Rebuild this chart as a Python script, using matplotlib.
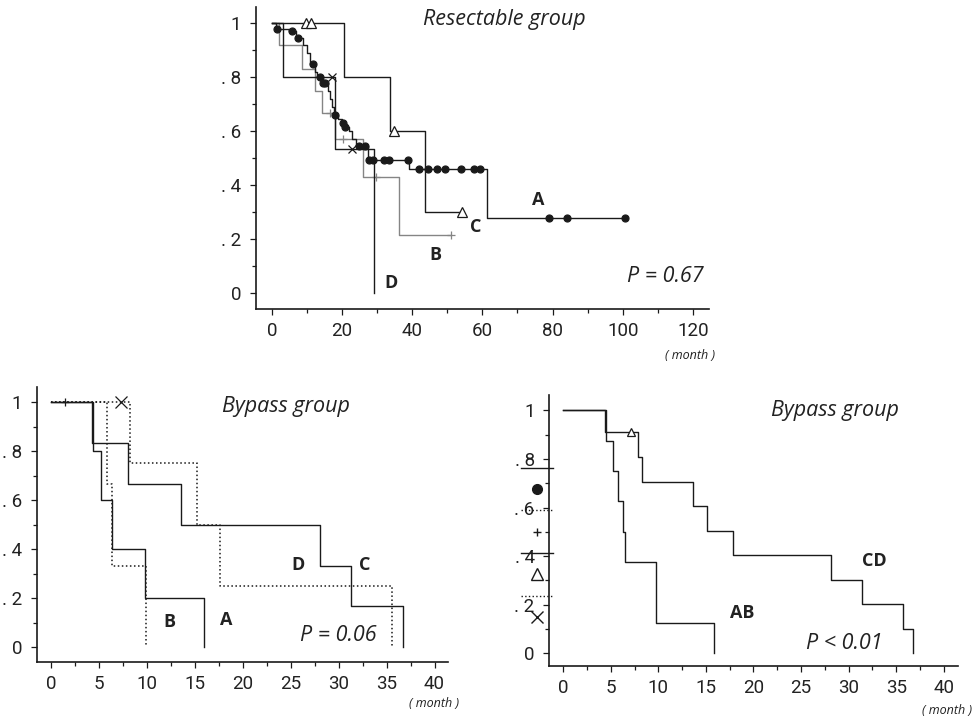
import numpy as np
import matplotlib.pyplot as plt
from matplotlib.lines import Line2D

# ---- Resectable group (months, survival) ----
res_a_t = [1.2, 5.0, 7.0, 9.0, 10.0, 11.0, 12.3, 13.0, 14.0, 16.0, 16.6, 17.2, 17.6,
           19.0, 20.0, 20.6, 22.0, 23.0, 24.0, 27.3, 39.2, 61.3]
res_a_s = [0.98, 0.97, 0.945, 0.92, 0.89, 0.848, 0.82, 0.80, 0.78, 0.75, 0.72, 0.69, 0.66,
           0.645, 0.632, 0.617, 0.60, 0.57, 0.547, 0.494, 0.459, 0.28]
res_a_cens = [1.6, 5.7, 7.5, 11.8, 13.7, 14.5, 15.2, 17.9, 20.3, 20.9, 24.8, 26.7, 27.6, 28.8,
              32.1, 33.3, 38.7, 42.0, 44.4, 47.0, 49.3, 54.0, 57.6, 59.2, 79.1, 84.2, 100.7]

res_b_t = [2.1, 8.7, 12.3, 14.2, 17.9, 25.9, 36.3]
res_b_s = [0.92, 0.83, 0.75, 0.667, 0.57, 0.43, 0.215]
res_b_cens = [16.5, 20.3, 29.7, 51.1]

res_c_t = [20.6, 33.8, 43.7]
res_c_s = [0.8, 0.6, 0.3]
res_c_cens = [9.7, 11.1, 34.7, 54.2]

res_d_t = [3.3, 18.1, 29.0]
res_d_s = [0.8, 0.535, 0.0]
res_d_cens = [17.3, 22.9]

# ---- Bypass group, four stages ----
byp_a_t = [4.4, 5.2, 6.4, 9.8, 16.0]
byp_a_s = [0.8, 0.6, 0.4, 0.2, 0.0]
byp_b_t = [5.8, 6.4, 9.9]
byp_b_s = [0.667, 0.333, 0.0]
byp_b_cens = [1.5]
byp_c_t = [4.3, 8.0, 13.6, 28.1, 31.3, 36.7]
byp_c_s = [0.833, 0.667, 0.5, 0.333, 0.167, 0.0]
byp_d_t = [8.2, 15.2, 17.6, 35.6]
byp_d_s = [0.75, 0.5, 0.25, 0.0]
byp_d_cens = [7.3]

# ---- Bypass group, AB vs CD ----
ab_t = [4.5, 5.2, 5.8, 6.3, 6.5, 9.7, 9.8, 15.9]
ab_s = [0.875, 0.75, 0.625, 0.5, 0.375, 0.25, 0.125, 0.0]
cd_t = [4.4, 7.9, 8.3, 13.6, 15.1, 17.8, 28.1, 31.4, 35.7, 36.8]
cd_s = [0.909, 0.808, 0.707, 0.606, 0.505, 0.404, 0.303, 0.202, 0.101, 0.0]
cd_cens = [7.1]

ytick_vals = [0, 0.2, 0.4, 0.6, 0.8, 1.0]
ytick_labels = ['0', '. 2', '. 4', '. 6', '. 8', '1']

TICKFONT = ['Roboto', 'DejaVu Sans']
TXTFONT = ['Open Sans', 'DejaVu Sans']
BLACK = '#1a1a1a'
GRAY = '#858585'
TXT = '#222222'


def surv_at(t, s, c):
    lvl = 1.0
    for ti, si in zip(t, s):
        if ti <= c:
            lvl = si
    return lvl


def km(ax, t, s, cens=(), end=None, marker=None, ms=5, mfc=BLACK, color=BLACK, ls='-', lw=1.0):
    if end is None:
        end = max(list(t) + list(cens))
    xs = [0.0] + list(t) + [end]
    ys = [1.0] + list(s) + [s[-1]]
    ax.step(xs, ys, where='post', color=color, ls=ls, lw=lw)
    if len(cens):
        cy = [surv_at(t, s, c) for c in cens]
        ax.plot(cens, cy, ls='none', marker=marker, ms=ms, mfc=mfc, mec=color,
                mew=0.9, color=color, clip_on=False)


def style(ax, xlim, ylim, major, minor):
    ax.set_xlim(*xlim)
    ax.set_ylim(*ylim)
    for sp in ['top', 'right']:
        ax.spines[sp].set_visible(False)
    for sp in ['left', 'bottom']:
        ax.spines[sp].set_linewidth(1.2)
        ax.spines[sp].set_color(BLACK)
    ax.set_xticks(np.arange(0, xlim[1], major))
    ax.set_xticks(np.arange(0, xlim[1], minor), minor=True)
    ax.set_yticks(ytick_vals, ytick_labels)
    ax.set_yticks(np.arange(0, 1.01, 0.1), minor=True)
    ax.tick_params(which='major', length=4.5, width=0.9, color=BLACK, labelsize=13.5, pad=5)
    ax.tick_params(which='minor', length=3, width=0.9, color=BLACK)
    ax.tick_params(axis='y', pad=6)
    for lab in ax.get_xticklabels() + ax.get_yticklabels():
        lab.set_family(TICKFONT)
        lab.set_color(TXT)


def title(ax, x, y, s):
    ax.text(x, y, s, style='italic', fontsize=15.5, family=TXTFONT,
            ha='center', va='center', color=TXT)


def tag(ax, x, y, s):
    ax.text(x, y, s, fontsize=13, fontweight='bold', family=TXTFONT,
            ha='center', va='center', color=TXT)


def month(ax, x, y):
    ax.text(x, y, '( month )', style='italic', fontsize=9, family=TXTFONT,
            ha='center', va='center', color=TXT, clip_on=False)


fig = plt.figure(figsize=(9.8, 7.16), dpi=100)

# ---- top panel ----
ax1 = fig.add_axes([0.261, 0.5684, 0.4625, 0.4218])
style(ax1, (-4.56, 124.6), (-0.058, 1.06), 20, 10)
km(ax1, res_b_t, res_b_s, res_b_cens, marker='+', ms=6, color=GRAY)
km(ax1, res_d_t, res_d_s, res_d_cens, end=29.0, marker='x', ms=6)
km(ax1, res_c_t, res_c_s, res_c_cens, marker='^', ms=7.5, mfc='white')
km(ax1, res_a_t, res_a_s, res_a_cens, marker='o', ms=5)
title(ax1, 66.2, 1.012, 'Resectable group')
for lab, x, y in [('A', 75.9, 0.345), ('C', 58.2, 0.247), ('B', 46.5, 0.142), ('D', 33.9, 0.037)]:
    tag(ax1, x, y, lab)
ax1.text(112.1, 0.061, 'P = 0.67', style='italic', fontsize=15.5, family=TXTFONT,
         ha='center', va='center', color=TXT)
month(ax1, 119.2, -0.229)

# ---- bottom left panel ----
ax2 = fig.add_axes([0.0374, 0.0758, 0.4197, 0.3837])
style(ax2, (-1.49, 41.4), (-0.059, 1.062), 5, 2.5)
km(ax2, byp_d_t, byp_d_s, byp_d_cens, marker='x', ms=8, ls=':', lw=1.1)
km(ax2, byp_b_t, byp_b_s, byp_b_cens, marker='+', ms=6, ls=':', lw=1.1)
km(ax2, byp_c_t, byp_c_s)
km(ax2, byp_a_t, byp_a_s)
title(ax2, 24.5, 0.982, 'Bypass group')
for lab, x, y in [('B', 12.4, 0.105), ('A', 18.3, 0.111), ('D', 25.75, 0.336), ('C', 32.7, 0.336)]:
    tag(ax2, x, y, lab)
ax2.text(30.0, 0.05, 'P = 0.06', style='italic', fontsize=15.5, family=TXTFONT,
         ha='center', va='center', color=TXT)
month(ax2, 39.9, -0.229)

# ---- bottom right panel ----
ax3 = fig.add_axes([0.5605, 0.0698, 0.417, 0.3785])
style(ax3, (-1.47, 41.5), (-0.052, 1.063), 5, 2.5)
km(ax3, ab_t, ab_s)
km(ax3, cd_t, cd_s, cd_cens, marker='^', ms=6, mfc='white')
title(ax3, 28.6, 1.0, 'Bypass group')
tag(ax3, 18.8, 0.165, 'AB')
tag(ax3, 32.7, 0.381, 'CD')
ax3.text(29.5, 0.041, 'P < 0.01', style='italic', fontsize=15.5, family=TXTFONT,
         ha='center', va='center', color=TXT)
month(ax3, 40.4, -0.233)

# leftover legend key drawn over the y axis
handles = [
    Line2D([], [], color=BLACK, lw=1.0),
    Line2D([], [], ls='none', marker='o', ms=7, color=BLACK),
    Line2D([], [], color=BLACK, lw=1.0, ls=':'),
    Line2D([], [], ls='none', marker='+', ms=6, color=BLACK),
    Line2D([], [], color=BLACK, lw=1.0),
    Line2D([], [], ls='none', marker='^', ms=8, mfc='white', mec=BLACK),
    Line2D([], [], color=BLACK, lw=1.0, ls=':'),
    Line2D([], [], ls='none', marker='x', ms=8, color=BLACK),
]
ax3.legend(handles, [''] * len(handles), loc='upper left', bbox_to_anchor=(-0.069, 0.755),
           frameon=False, fontsize=10, handlelength=2.3, handletextpad=0, borderpad=0,
           borderaxespad=0, labelspacing=0.53)

fig.savefig('out.png', dpi=100)
